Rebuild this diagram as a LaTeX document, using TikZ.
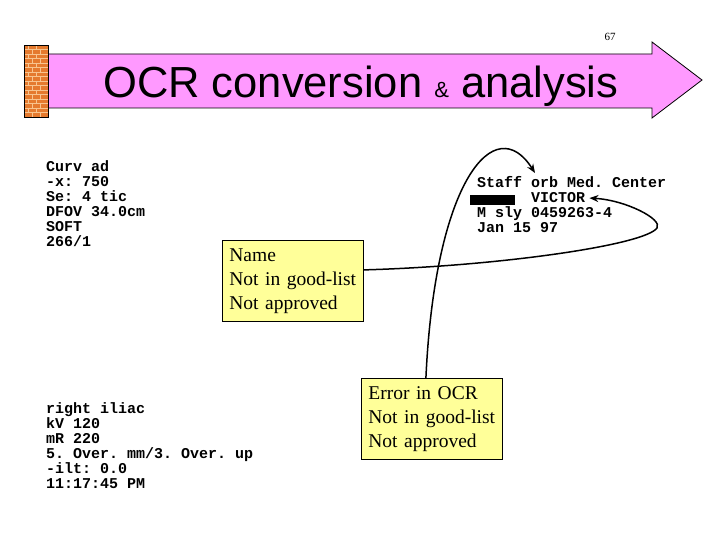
\documentclass[tikz,border=0pt]{standalone}
\usepackage{fontspec}
\setmainfont{Liberation Serif}
\setsansfont{Liberation Sans}
\setmonofont{Liberation Mono}
\usetikzlibrary{arrows.meta}
\definecolor{arrowpink}{HTML}{FF99FF}
\definecolor{notefill}{HTML}{FFFF99}
\definecolor{brickred}{HTML}{E57A2E}
\definecolor{mortar}{HTML}{F8C48E}
\tikzset{
  scan/.style={font=\fontsize{15}{15}\selectfont\ttfamily\bfseries, align=left, inner sep=0pt, anchor=north west},
  note/.style={draw, line width=0.8pt, fill=notefill, font=\fontsize{19.5}{24}\selectfont,
    align=left, text width=127pt, inner xsep=7pt, minimum height=81pt, anchor=north west},
  link/.style={line width=1.5pt, -{Stealth[length=9pt,width=7pt]}}
}
\begin{document}
\begin{tikzpicture}[x=1pt,y=-1pt]
  \useasboundingbox (0,0) rectangle (720,540);
  % title arrow and brick wall
  \draw[line width=0.8pt, fill=arrowpink] (48,54) -- (652,54) -- (652,42) -- (702,80)
    -- (652,118) -- (652,108) -- (48,108) -- cycle;
  \fill[brickred] (24,45) rectangle (48,117);
  \foreach \r in {0,...,15} {
    \draw[mortar, line width=0.6pt] (24,45+4.5*\r) -- (48,45+4.5*\r);
    \pgfmathsetmacro\off{mod(\r,2)*4}
    \foreach \k in {0,1} \draw[mortar, line width=0.6pt] (28+\off+8*\k,45+4.5*\r) -- ++(0,4.5);
  }
  \draw[line width=0.8pt] (24,45) rectangle (48,117);
  \node[font=\sffamily\fontsize{43.5}{43.5}\selectfont, anchor=base west, inner sep=0pt] (title)
    at (103,98) {OCR conversion\ {\fontsize{22}{22}\selectfont\&}\ analysis};
  \node[font=\fontsize{11}{11}\selectfont] (pagenum) at (610,37) {67};
  % scanned header texts
  \node[scan] (exam) at (46,160) {Curv ad\\-x: 750\\Se: 4 tic\\DFOV 34.0cm\\SOFT\\266/1};
  \node[scan] (series) at (46,402) {right iliac\\kV 120\\mR 220\\5. Over. mm/3. Over. up\\-ilt: 0.0\\11:17:45 PM};
  \node[scan] (staff) at (477,176) {Staff orb Med. Center\\\mbox{}\\M sly 0459263-4\\Jan 15 97};
  \fill (470,195) rectangle (515,205);
  \node[scan, anchor=base west, inner xsep=4pt] (victor) at (527,203) {VICTOR};
  \coordinate (orbtop) at (535,173);
  % remarks
  \node[note] (namebox) at (222,240) {Name\\Not in good-list\\Not approved};
  \node[note] (errorbox) at (361,378) {Error in OCR\\Not in good-list\\Not approved};
  \draw[link] ([yshift=11pt]namebox.east) .. controls (500,266) and (645,245) .. (657,228)
    .. controls (663,219) and (625,200) .. (victor.east);
  \draw[link] ([xshift=-6pt]errorbox.north) .. controls (435,180) and (495,110) .. (orbtop);
\end{tikzpicture}
\end{document}
